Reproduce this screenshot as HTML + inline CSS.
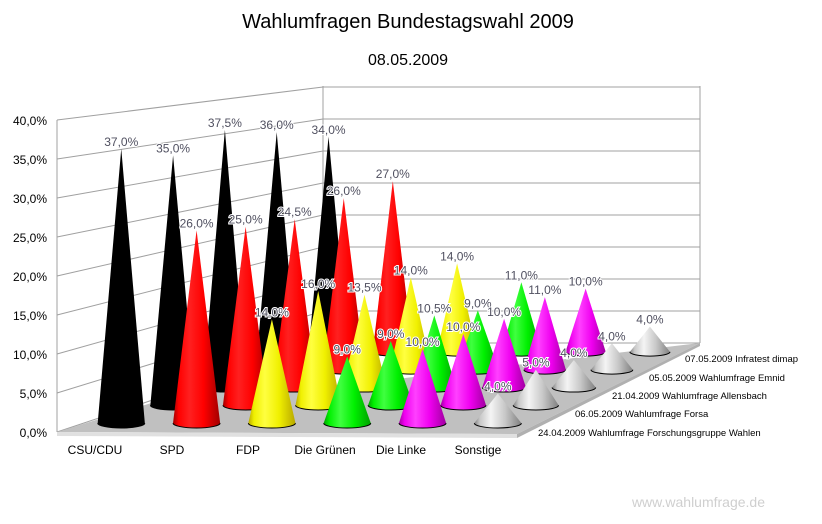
<!DOCTYPE html>
<html><head><meta charset="utf-8"><style>
html,body{margin:0;padding:0;background:#fff;}
svg{display:block;font-family:"Liberation Sans",sans-serif;}
</style></head><body>
<svg id="s" width="822" height="524" viewBox="0 0 822 524" xmlns="http://www.w3.org/2000/svg">
<defs id="d"></defs>
<text x="408" y="28" font-size="20" text-anchor="middle" fill="#000">Wahlumfragen Bundestagswahl 2009</text>
<text x="408" y="65" font-size="16" text-anchor="middle" fill="#000">08.05.2009</text>
<g id="walls"></g>
<g id="cones"></g>
<g id="labels" font-size="12" fill="#505060" text-anchor="middle"></g>
<g font-size="12" fill="#000" text-anchor="end">
<text x="47" y="437">0,0%</text><text x="47" y="398">5,0%</text><text x="47" y="359">10,0%</text><text x="47" y="320">15,0%</text><text x="47" y="281">20,0%</text><text x="47" y="242">25,0%</text><text x="47" y="203">30,0%</text><text x="47" y="164">35,0%</text><text x="47" y="125">40,0%</text>
</g>
<g font-size="12" fill="#000" text-anchor="middle">
<text x="95" y="454">CSU/CDU</text><text x="172" y="454">SPD</text><text x="248" y="454">FDP</text><text x="325" y="454">Die Grünen</text><text x="401" y="454">Die Linke</text><text x="478" y="454">Sonstige</text>
</g>
<g font-size="9.5" fill="#000">
<text x="685" y="362">07.05.2009 Infratest dimap</text>
<text x="649" y="381">05.05.2009 Wahlumfrage Emnid</text>
<text x="612" y="399">21.04.2009 Wahlumfrage Allensbach</text>
<text x="575" y="417">06.05.2009 Wahlumfrage Forsa</text>
<text x="538" y="436">24.04.2009 Wahlumfrage Forschungsgruppe Wahlen</text>
</g>
<text x="765" y="507" font-size="14" fill="#cfcfcf" text-anchor="end">www.wahlumfrage.de</text>
</svg>
<script>
var NS="http://www.w3.org/2000/svg";
function el(p,n,a){var e=document.createElementNS(NS,n);for(var k in a)e.setAttribute(k,a[k]);p.appendChild(e);return e;}
var walls=document.getElementById('walls'),cones=document.getElementById('cones'),labs=document.getElementById('labels'),defs=document.getElementById('d');
// walls gridlines
for(var p=0;p<=40;p+=5){
 var yf=432-7.8*p, yb=343-6.4*p;
 el(walls,'line',{x1:57,y1:yf,x2:323,y2:yb,stroke:'#a0a0a0','stroke-width':1});
 el(walls,'line',{x1:323,y1:yb,x2:700,y2:yb,stroke:'#a0a0a0','stroke-width':1});
}
el(walls,'line',{x1:57,y1:120,x2:57,y2:432,stroke:'#a0a0a0'});
el(walls,'line',{x1:323,y1:86,x2:323,y2:343,stroke:'#a0a0a0'});
el(walls,'line',{x1:700,y1:86,x2:700,y2:343,stroke:'#a0a0a0'});
el(walls,'polygon',{points:'57,432 200,388 330,387 700,343 517,434',fill:'#c0c0c0'});
el(walls,'polygon',{points:'57,432 517,434 517,438 57,436',fill:'#e0e0e0'});
el(walls,'polygon',{points:'517,434 700,343 700,346 517,438',fill:'#b0b0b0'});
var cols=[['#000','#000','#000'],['#ff2020','#ff0000','#a00000'],['#ffff40','#f0f000','#b8a800'],['#40ff40','#00f000','#00a000'],['#ff40ff','#f000f0','#a000a0'],['#f4f4f4','#c8c8c8','#808080']];
cols.forEach(function(c,i){var g=el(defs,'linearGradient',{id:'g'+i,x1:0,y1:0,x2:1,y2:0});
 el(g,'stop',{offset:'0','stop-color':c[2]});el(g,'stop',{offset:'0.12','stop-color':c[1]});el(g,'stop',{offset:'0.35','stop-color':c[0]});el(g,'stop',{offset:'0.65','stop-color':c[1]});el(g,'stop',{offset:'1','stop-color':c[2]});});
var data=[
 [[37,'37,0%'],[26,'26,0%'],[14,'14,0%'],[9,'9,0%'],[10,'10,0%'],[4,'4,0%']],
 [[35,'35,0%'],[25,'25,0%'],[16,'16,0%'],[9,'9,0%'],[10,'10,0%'],[5,'5,0%']],
 [[37.5,'37,5%'],[24.5,'24,5%'],[13.5,'13,5%'],[10.5,'10,5%'],[10,'10,0%'],[4,'4,0%']],
 [[36,'36,0%'],[26,'26,0%'],[14,'14,0%'],[9,'9,0%'],[11,'11,0%'],[4,'4,0%']],
 [[34,'34,0%'],[27,'27,0%'],[14,'14,0%'],[11,'11,0%'],[10,'10,0%'],[4,'4,0%']]];
for(var r=4;r>=0;r--){
 var t=0.1+0.2*r,s=1-0.18*t,X0=57+266*t,yb=432-89*t;
 for(var c=0;c<6;c++){
  var v=data[r][c][0],x=X0+s*76.7*(c+0.5),h=v*7.55*s,w=24*s,ry=5*s,tip=yb-h;
  el(cones,'path',{d:'M'+(x-w)+','+yb+' L'+x+','+tip+' L'+(x+w)+','+yb+' A'+w+','+ry+' 0 0 1 '+(x-w)+','+yb+' Z',fill:'url(#g'+c+')'});
  el(cones,'path',{d:'M'+(x+w)+','+yb+' A'+w+','+ry+' 0 0 1 '+(x-w)+','+yb,fill:'none',stroke:'#000','stroke-width':1});
  var tx=el(labs,'text',{x:x,y:tip-3,stroke:'#fff','stroke-width':2,'paint-order':'stroke'});tx.textContent=data[r][c][1];
 }
}
</script>
</body></html>
